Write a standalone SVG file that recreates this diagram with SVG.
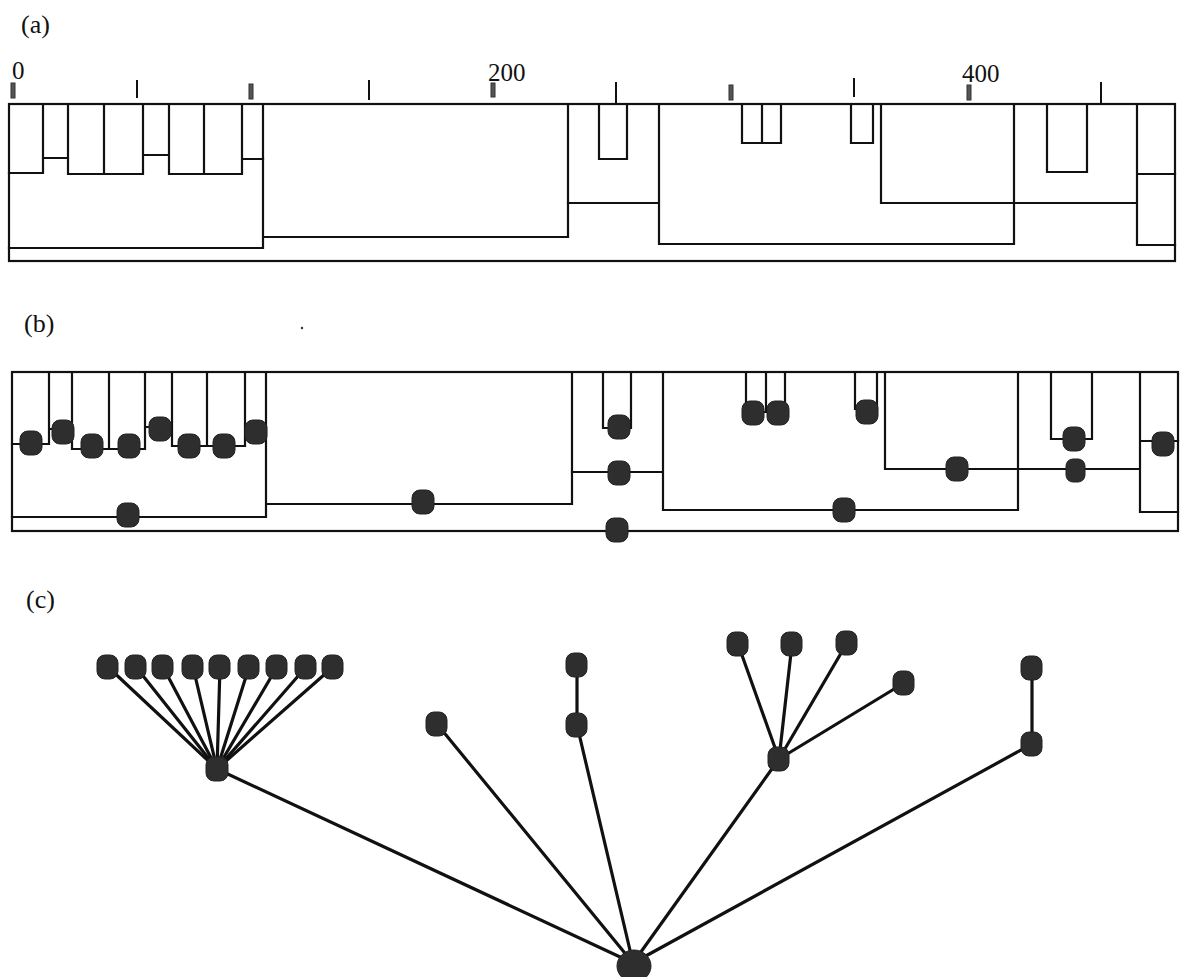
<svg xmlns="http://www.w3.org/2000/svg" width="1186" height="977" viewBox="0 0 1186 977">
<style>
.lbl{font-family:"Liberation Serif","Times New Roman",serif;font-size:26px;fill:#111}
.num{font-family:"Liberation Serif","Times New Roman",serif;font-size:25px;fill:#111}
.ln{fill:none;stroke:#111;stroke-width:2.2;stroke-linecap:square}
.edge{stroke:#111;stroke-width:3.2;stroke-linecap:round}
.tk{stroke:#111;stroke-width:2}
.tkg{fill:#555;stroke:#333;stroke-width:1}
.nd{fill:#2e2e2e;stroke:#222;stroke-width:1}
</style>
<rect width="1186" height="977" fill="#fff"/>

<!-- Panel (a) -->
<g id="panel-a">
<text class="lbl" x="21" y="33">(a)</text>
<text class="num" x="12" y="79">0</text>
<text class="num" x="488" y="81">200</text>
<text class="num" x="962" y="82">400</text>
<g id="ticks-a">
<rect class="tkg" x="11" y="83" width="4" height="15"/>
<line class="tk" x1="137" y1="80" x2="137" y2="98"/>
<rect class="tkg" x="249" y="84" width="4" height="15"/>
<line class="tk" x1="369" y1="80" x2="369" y2="100"/>
<rect class="tkg" x="491" y="83" width="4" height="14"/>
<line class="tk" x1="616" y1="82" x2="616" y2="104"/>
<rect class="tkg" x="729" y="85" width="4" height="15"/>
<line class="tk" x1="854" y1="78" x2="854" y2="97"/>
<rect class="tkg" x="967" y="85" width="4" height="15"/>
<line class="tk" x1="1101" y1="82" x2="1101" y2="104"/>
</g>
<g id="tree-a">
<rect class="ln" x="9" y="104" width="1166" height="157"/>
<path class="ln" d="M9,173 H43 V104 M43,158 H68 V104 M68,104 V174 H143 V104 M104,104 V174 M143,155 H169 V104 M169,104 V174 H242 V104 M204,104 V174 M242,159 H263"/>
<path class="ln" d="M9,248 H263 V104 M263,237 H568 V104"/>
<path class="ln" d="M599,104 V159 H627 V104 M568,203 H659 V104 M659,104 V244 H1014 V104"/>
<path class="ln" d="M742,104 V143 H781 V104 M762,104 V143 M851,104 V143 H873 V104"/>
<path class="ln" d="M881,104 V203 H1137 M1047,104 V172 H1087 V104 M1137,104 V245 H1175 M1137,174 H1175"/>
</g>
</g>

<!-- Panel (b) -->
<g id="panel-b">
<text class="lbl" x="24" y="332">(b)</text>
<circle cx="302" cy="328" r="1.2" fill="#333"/>
<g id="tree-b">
<rect class="ln" x="12" y="372" width="1166" height="159"/>
<path class="ln" d="M12,444 H49 V372 M49,429 H72 V372 M72,372 V449 H145 V372 M109,372 V449 M145,427 H172 V372 M172,372 V446 H245 V372 M207,372 V446 M245,427 H266"/>
<path class="ln" d="M12,517 H266 V372 M266,504 H572 V372"/>
<path class="ln" d="M603,372 V428 H631 V372 M572,472 H663 V372 M663,372 V510 H1018 V372"/>
<path class="ln" d="M746,372 V412 H785 V372 M766,372 V412 M855,372 V409 H877 V372"/>
<path class="ln" d="M885,372 V469 H1140 M1051,372 V439 H1092 V372 M1140,372 V512 H1178 M1140,441 H1178"/>
</g>
<g id="nodes-b">
<rect class="nd" x="20" y="431" width="22" height="24" rx="8"/>
<rect class="nd" x="52" y="420" width="22" height="24" rx="8"/>
<rect class="nd" x="81" y="434" width="22" height="24" rx="8"/>
<rect class="nd" x="118" y="434" width="22" height="24" rx="8"/>
<rect class="nd" x="149" y="417" width="22" height="24" rx="8"/>
<rect class="nd" x="178" y="434" width="22" height="24" rx="8"/>
<rect class="nd" x="213" y="434" width="22" height="24" rx="8"/>
<rect class="nd" x="245" y="420" width="22" height="24" rx="8"/>
<rect class="nd" x="117" y="503" width="22" height="24" rx="8"/>
<rect class="nd" x="412" y="490" width="22" height="24" rx="8"/>
<rect class="nd" x="608" y="415" width="22" height="24" rx="8"/>
<rect class="nd" x="608" y="461" width="22" height="24" rx="8"/>
<rect class="nd" x="606" y="518" width="22" height="24" rx="8"/>
<rect class="nd" x="742" y="401" width="22" height="24" rx="8"/>
<rect class="nd" x="767" y="401" width="22" height="24" rx="8"/>
<rect class="nd" x="856" y="400" width="22" height="24" rx="8"/>
<rect class="nd" x="833" y="498" width="22" height="24" rx="8"/>
<rect class="nd" x="946" y="457" width="22" height="24" rx="8"/>
<rect class="nd" x="1063" y="427" width="22" height="24" rx="8"/>
<rect class="nd" x="1066" y="459" width="19" height="23" rx="7"/>
<rect class="nd" x="1152" y="432" width="22" height="24" rx="8"/>
</g>
</g>

<!-- Panel (c) -->
<g id="panel-c">
<text class="lbl" x="26" y="608">(c)</text>
<g id="edges-c">
<line class="edge" x1="217" y1="769" x2="108" y2="667"/>
<line class="edge" x1="217" y1="769" x2="136" y2="667"/>
<line class="edge" x1="217" y1="769" x2="163" y2="667"/>
<line class="edge" x1="217" y1="769" x2="193" y2="667"/>
<line class="edge" x1="217" y1="769" x2="220" y2="667"/>
<line class="edge" x1="217" y1="769" x2="249" y2="667"/>
<line class="edge" x1="217" y1="769" x2="277" y2="667"/>
<line class="edge" x1="217" y1="769" x2="306" y2="667"/>
<line class="edge" x1="217" y1="769" x2="333" y2="667"/>
<line class="edge" x1="633" y1="963" x2="217" y2="769"/>
<line class="edge" x1="633" y1="963" x2="437" y2="724"/>
<line class="edge" x1="633" y1="963" x2="577" y2="725"/>
<line class="edge" x1="577" y1="725" x2="577" y2="665"/>
<line class="edge" x1="633" y1="963" x2="779" y2="759"/>
<line class="edge" x1="779" y1="759" x2="738" y2="644"/>
<line class="edge" x1="779" y1="759" x2="792" y2="644"/>
<line class="edge" x1="779" y1="759" x2="847" y2="643"/>
<line class="edge" x1="779" y1="759" x2="904" y2="683"/>
<line class="edge" x1="633" y1="963" x2="1032" y2="744"/>
<line class="edge" x1="1032" y1="744" x2="1032" y2="668"/>
</g>
<g id="nodes-c">
<rect class="nd" x="97" y="655" width="21" height="24" rx="8"/>
<rect class="nd" x="125" y="655" width="21" height="24" rx="8"/>
<rect class="nd" x="152" y="655" width="21" height="24" rx="8"/>
<rect class="nd" x="182" y="655" width="21" height="24" rx="8"/>
<rect class="nd" x="209" y="655" width="21" height="24" rx="8"/>
<rect class="nd" x="238" y="655" width="21" height="24" rx="8"/>
<rect class="nd" x="266" y="655" width="21" height="24" rx="8"/>
<rect class="nd" x="295" y="655" width="21" height="24" rx="8"/>
<rect class="nd" x="322" y="655" width="21" height="24" rx="8"/>
<rect class="nd" x="206" y="757" width="22" height="24" rx="8"/>
<rect class="nd" x="426" y="712" width="21" height="24" rx="8"/>
<rect class="nd" x="566" y="653" width="21" height="24" rx="8"/>
<rect class="nd" x="566" y="713" width="21" height="24" rx="8"/>
<rect class="nd" x="727" y="632" width="21" height="24" rx="8"/>
<rect class="nd" x="781" y="632" width="21" height="24" rx="8"/>
<rect class="nd" x="836" y="631" width="21" height="24" rx="8"/>
<rect class="nd" x="893" y="671" width="21" height="24" rx="8"/>
<rect class="nd" x="768" y="747" width="21" height="24" rx="8"/>
<rect class="nd" x="1021" y="656" width="21" height="24" rx="8"/>
<rect class="nd" x="1021" y="732" width="21" height="24" rx="8"/>
<ellipse class="nd" cx="634" cy="966" rx="17" ry="16"/>
</g>
</g>
</svg>
